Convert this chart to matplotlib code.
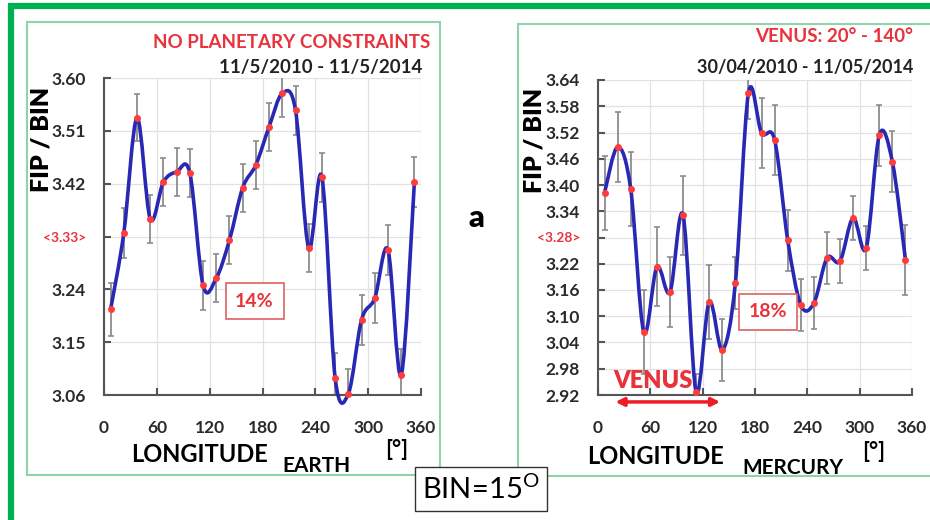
import numpy as np
import matplotlib
matplotlib.use("Agg")
import matplotlib.pyplot as plt
from matplotlib.path import Path
from matplotlib.patches import PathPatch, Rectangle

plt.rcParams['font.family'] = ['Lato', 'DejaVu Sans']

# bin centres (BIN = 15 deg)
lon = [7.5, 22.5, 37.5, 52.5, 67.5, 82.5, 97.5, 112.5, 127.5, 142.5, 157.5, 172.5,
       187.5, 202.5, 217.5, 232.5, 247.5, 262.5, 277.5, 292.5, 307.5, 322.5, 337.5, 352.5]

earth_fip = [3.206, 3.336, 3.532, 3.360, 3.423, 3.440, 3.438, 3.247, 3.259, 3.324, 3.413, 3.452,
             3.517, 3.574, 3.545, 3.310, 3.431, 3.089, 3.062, 3.188, 3.225, 3.307, 3.094, 3.423]
earth_err = [0.045, 0.042, 0.040, 0.041, 0.041, 0.041, 0.041, 0.042, 0.041, 0.041, 0.041, 0.041,
             0.041, 0.040, 0.042, 0.041, 0.042, 0.043, 0.043, 0.043, 0.043, 0.042, 0.044, 0.042]

mercury_fip = [3.382, 3.487, 3.391, 3.064, 3.213, 3.155, 3.331, 2.927, 3.133, 3.023, 3.176, 3.610,
               3.519, 3.503, 3.274, 3.126, 3.130, 3.233, 3.226, 3.325, 3.256, 3.514, 3.453, 3.229]
mercury_err = [0.085, 0.080, 0.085, 0.095, 0.090, 0.080, 0.090, 0.040, 0.085, 0.070, 0.060, 0.060,
               0.080, 0.080, 0.070, 0.060, 0.060, 0.060, 0.050, 0.050, 0.050, 0.070, 0.070, 0.080]

earth_yticks = [3.06, 3.15, 3.24, 3.33, 3.42, 3.51, 3.60]
earth_ylabels = ['3.06', '3.15', '3.24', '<3.33>', '3.42', '3.51', '3.60']
mercury_yticks = [2.92, 2.98, 3.04, 3.10, 3.16, 3.22, 3.28, 3.34, 3.40, 3.46, 3.52, 3.58, 3.64]
mercury_ylabels = ['2.92', '2.98', '3.04', '3.10', '3.16', '3.22', '<3.28>', '3.34', '3.40',
                   '3.46', '3.52', '3.58', '3.64']
xticks = [0, 60, 120, 180, 240, 300, 360]
xlabels = ['0', '60', '120', '180', '240', '300', '360']

W, H = 930, 520
RED = '#e8323c'
BLUE = '#2828b4'
GREEN = '#00b050'
LGREEN = '#8fd4a8'


def fx(x):
    return x / W


def fy(y):
    return 1 - y / H


def smooth_path(x, y):
    # excel-like smoothed line (catmull-rom as bezier)
    n = len(x)
    verts = [(x[0], y[0])]
    codes = [Path.MOVETO]
    for i in range(n - 1):
        a = max(i - 1, 0)
        d = min(i + 2, n - 1)
        c1 = (x[i] + (x[i + 1] - x[a]) / 6, y[i] + (y[i + 1] - y[a]) / 6)
        c2 = (x[i + 1] - (x[d] - x[i]) / 6, y[i + 1] - (y[d] - y[i]) / 6)
        verts += [c1, c2, (x[i + 1], y[i + 1])]
        codes += [Path.CURVE4] * 3
    return Path(verts, codes)


def panel(ax, fip, err, yticks, ylabels, red_idx):
    ax.set_xlim(0, 360)
    ax.set_ylim(yticks[0], yticks[-1])
    ax.errorbar(lon, fip, yerr=err, fmt='none', ecolor='#8c8c8c', elinewidth=1.3,
                capsize=2, capthick=1.2, zorder=2)
    ax.add_patch(PathPatch(smooth_path(lon, fip), fill=False, ec=BLUE, lw=2.6,
                           zorder=3, clip_on=False))
    ax.plot(lon, fip, 'o', color='#ff3c3c', ms=4, zorder=4, clip_on=False)
    ax.set_xticks(xticks, labels=xlabels, fontweight='bold', fontsize=12.5, color='#2a2a2a')
    ax.set_yticks(yticks, labels=ylabels, fontweight='bold', fontsize=12.5, color='#2a2a2a')
    ax.grid(color='#e2e2e2', lw=0.9)
    ax.set_axisbelow(True)
    for s in ['top', 'right']:
        ax.spines[s].set_visible(False)
    for s in ['left', 'bottom']:
        ax.spines[s].set_color('#555555')
        ax.spines[s].set_linewidth(1.5)
    ax.tick_params(axis='x', direction='in', length=5, width=1.5, color='#555555', pad=18)
    ax.tick_params(axis='y', direction='in', length=5, width=1.5, color='#555555', pad=13)
    red = ax.get_yticklabels()[red_idx]
    red.set_color(RED)
    red.set_fontsize(10)


fig = plt.figure(figsize=(W / 100, H / 100), dpi=100)

# frames
fig.patches.append(Rectangle((fx(11), fy(1000)), 2, fy(6) - fy(1000), transform=fig.transFigure,
                             fill=False, ec=GREEN, lw=4.5, zorder=0))
fig.patches.append(Rectangle((fx(27), fy(475)), fx(440) - fx(27), fy(22) - fy(475),
                             transform=fig.transFigure, fill=False, ec=LGREEN, lw=1.5, zorder=0))
fig.patches.append(Rectangle((fx(518), fy(476)), 1, fy(24) - fy(476),
                             transform=fig.transFigure, fill=False, ec=LGREEN, lw=1.5, zorder=0))

ax1 = fig.add_axes([fx(104), fy(395), fx(421) - fx(104), fy(78) - fy(395)])
ax2 = fig.add_axes([fx(598), fy(395), fx(912) - fx(598), fy(80) - fy(395)])
ax1.patch.set_alpha(0)
ax2.patch.set_alpha(0)

panel(ax1, earth_fip, earth_err, earth_yticks, earth_ylabels, 3)
panel(ax2, mercury_fip, mercury_err, mercury_yticks, mercury_ylabels, 6)

# left panel texts
fig.text(fx(430), fy(42), 'NO PLANETARY CONSTRAINTS', ha='right', va='center',
         fontsize=13.5, fontweight='bold', color=RED)
fig.text(fx(422), fy(67), '11/5/2010 - 11/5/2014', ha='right', va='center',
         fontsize=13.5, fontweight='bold', color='#222222')
fig.text(fx(42), fy(139), 'FIP / BIN', rotation=90, ha='center', va='center',
         fontsize=18, fontweight='heavy')
fig.text(fx(131), fy(455), 'LONGITUDE', ha='left', va='center', fontsize=17, fontweight='bold')
fig.text(fx(282), fy(466), 'EARTH', ha='left', va='center', fontsize=15, fontweight='bold')
fig.text(fx(385), fy(450), '[°]', ha='left', va='center', fontsize=16, fontweight='bold')
ax1.text(171, 3.22, '14%', ha='center', va='center', fontsize=14, fontweight='bold', color=RED,
         bbox=dict(boxstyle='square,pad=0.5', fc='white', ec='#e06060', lw=1.2))

# right panel texts
fig.text(fx(913), fy(37), 'VENUS: 20° - 140°', ha='right', va='center',
         fontsize=13.5, fontweight='bold', color=RED)
fig.text(fx(913), fy(67), '30/04/2010 - 11/05/2014', ha='right', va='center',
         fontsize=13, fontweight='bold', color='#222222')
fig.text(fx(534), fy(140), 'FIP / BIN', rotation=90, ha='center', va='center',
         fontsize=18, fontweight='heavy')
fig.text(fx(587), fy(457), 'LONGITUDE', ha='left', va='center', fontsize=17, fontweight='bold')
fig.text(fx(742), fy(468), 'MERCURY', ha='left', va='center', fontsize=15, fontweight='bold')
fig.text(fx(862), fy(452), '[°]', ha='left', va='center', fontsize=16, fontweight='bold')
ax2.text(195, 3.11, '18%', ha='center', va='center', fontsize=14, fontweight='bold', color=RED,
         bbox=dict(boxstyle='square,pad=0.5', fc='white', ec='#e06060', lw=1.2))
ax2.text(63, 2.953, 'VENUS', ha='center', va='center', fontsize=17, fontweight='heavy', color=RED)
ax2.annotate('', xy=(140, -0.022), xytext=(20, -0.022), xycoords=('data', 'axes fraction'),
             textcoords=('data', 'axes fraction'), annotation_clip=False,
             arrowprops=dict(arrowstyle='<|-|>', color='#ee1c24', lw=2.5,
                             mutation_scale=12, shrinkA=0, shrinkB=0))

# middle labels
fig.text(fx(476), fy(218), 'a', ha='center', va='center', fontsize=22, fontweight='heavy')
fig.text(fx(481), fy(489), r'BIN=15$^{\mathregular{O}}$', ha='center', va='center', fontsize=21,
         bbox=dict(boxstyle='square,pad=0.25', fc='white', ec='#333333', lw=1.0))

fig.savefig('out.png', dpi=100)
